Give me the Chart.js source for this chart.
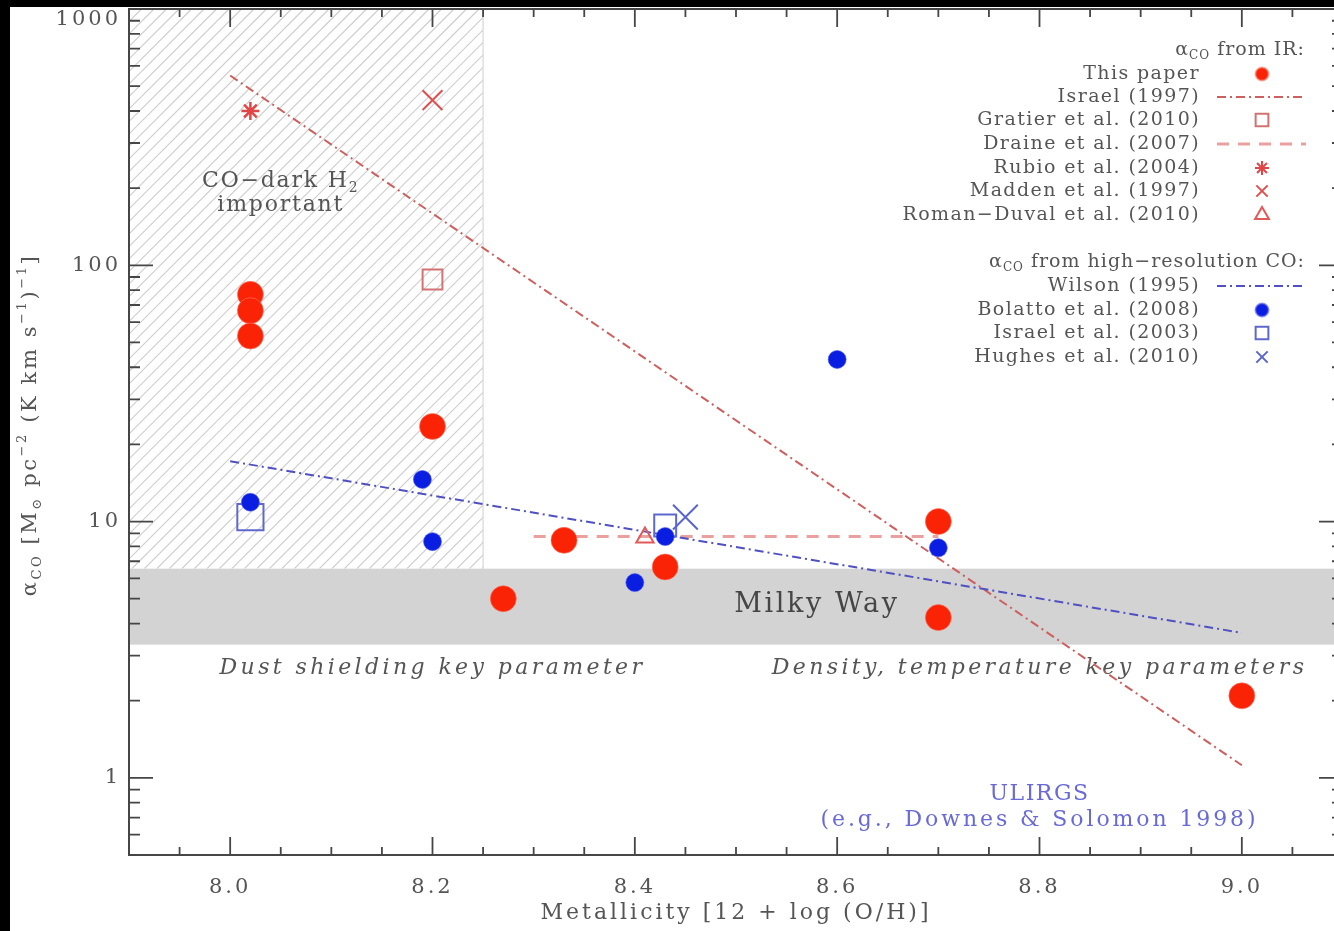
<!DOCTYPE html>
<html>
<head>
<meta charset="utf-8">
<script src="https://cdn.jsdelivr.net/npm/chart.js@4.4.1/dist/chart.umd.min.js"></script>
<style>
  html, body { margin: 0; padding: 0; background: #000; overflow: hidden; width: 1334px; height: 931px; }
  #myChart { position: absolute; left: 10px; top: 7px; background: #fff; }
</style>
</head>
<body>
<canvas id="myChart" width="1337" height="924"></canvas>
<script>
// ---- data ----
let thisPaperX = [8.02, 8.02, 8.02, 8.20, 8.27, 8.33, 8.43, 8.70, 8.70, 9.00]
let thisPaperY = [77, 66.5, 53, 23.5, 5.0, 8.45, 6.65, 10.0, 4.22, 2.09]

let bolattoX = [8.02, 8.19, 8.20, 8.40, 8.43, 8.60, 8.70]
let bolattoY = [11.9, 14.6, 8.35, 5.78, 8.74, 42.9, 7.9]

let israel03X = [8.02, 8.43]
let israel03Y = [10.4, 9.65]

let hughesX = [8.45]
let hughesY = [10.4]

let gratierX = [8.20]
let gratierY = [88]

let rubioX = [8.02]
let rubioY = [400]

let maddenX = [8.20]
let maddenY = [441]

let romanDuvalX = [8.41]
let romanDuvalY = [8.66]

let israel97X = [8.0, 9.0]
let israel97Y = [550, 1.12]

let wilsonX = [8.0, 9.0]
let wilsonY = [17.2, 3.68]

let draineX = [8.3, 8.7]
let draineY = [8.74, 8.74]

let X_TICKS = [8.0, 8.2, 8.4, 8.6, 8.8, 9.0]
let Y_TICKS = [1, 10, 100, 1000]

let MW_BAND = [3.31, 6.55]
let DARK_H2_X = [7.9, 8.25]

// ---- colours / fonts ----
const SERIF = '"DejaVu Serif", serif'
const TEXT = 'rgb(85,85,85)'
const RED = 'rgb(250,35,5)'
const BLUE = 'rgb(10,30,225)'
const RED_LINE = 'rgb(205,95,95)'
const BLUE_LINE = 'rgb(80,80,195)'

let pts = (xs, ys) => xs.map((x, i) => ({ x: x, y: ys[i] }))

// draw text made of pieces: [text, kind] kind 0 normal, 1 subscript, 2 superscript
function richText(c, parts, x, y, size, align, spacing) {
    c.save()
    c.letterSpacing = (spacing || 0) + 'px'
    let widths = parts.map(p => {
        c.font = (p[1] ? Math.round(size * 0.62) : size) + 'px ' + SERIF
        return c.measureText(p[0]).width
    })
    let total = widths.reduce((a, b) => a + b, 0)
    let cx = align === 'right' ? x - total : align === 'center' ? x - total / 2 : x
    c.textAlign = 'left'
    c.textBaseline = 'middle'
    parts.forEach((p, i) => {
        c.font = (p[1] ? Math.round(size * 0.62) : size) + 'px ' + SERIF
        let dy = p[1] === 1 ? size * 0.32 : p[1] === 2 ? -size * 0.38 : 0
        c.fillText(p[0], cx, y + dy)
        cx += widths[i]
    })
    c.restore()
}

function plainText(c, text, x, y, size, color, italic, spacing) {
    c.save()
    c.letterSpacing = (spacing || 0) + 'px'
    c.font = (italic ? 'italic ' : '') + size + 'px ' + SERIF
    c.fillStyle = color
    c.textAlign = 'center'
    c.textBaseline = 'middle'
    c.fillText(text, x, y)
    c.restore()
}

// band, hatching and the notes that sit under the data
const backdrop = {
    id: 'backdrop',
    beforeDatasetsDraw(chart) {
        let c = chart.ctx, xs = chart.scales.x, ys = chart.scales.y, a = chart.chartArea
        c.save()
        c.beginPath()
        c.rect(a.left, a.top, a.right - a.left, a.bottom - a.top)
        c.clip()

        // CO-dark H2 hatched box
        let hx0 = xs.getPixelForValue(DARK_H2_X[0]), hx1 = xs.getPixelForValue(DARK_H2_X[1])
        let hy0 = ys.getPixelForValue(1000), hy1 = ys.getPixelForValue(MW_BAND[1])
        c.save()
        c.beginPath()
        c.rect(hx0, hy0, hx1 - hx0, hy1 - hy0)
        c.clip()
        c.strokeStyle = 'rgb(205,205,205)'
        c.lineWidth = 1.2
        let H = hy1 - hy0
        for (let k = -H; k < hx1 - hx0 + H; k += 12.5) {
            c.beginPath()
            c.moveTo(hx0 + k, hy1)
            c.lineTo(hx0 + k + H, hy0)
            c.stroke()
        }
        c.restore()
        c.strokeStyle = 'rgb(215,215,215)'
        c.lineWidth = 1.2
        c.beginPath()
        c.moveTo(hx1, hy0)
        c.lineTo(hx1, hy1)
        c.stroke()

        // Milky Way band
        let by0 = ys.getPixelForValue(MW_BAND[1]), by1 = ys.getPixelForValue(MW_BAND[0])
        c.fillStyle = 'rgb(211,211,211)'
        c.fillRect(a.left, by0, a.right - a.left, by1 - by0)

        c.fillStyle = TEXT
        richText(c, [['CO\u2212dark H', 0], ['2', 1]], xs.getPixelForValue(8.05), ys.getPixelForValue(213), 22, 'center', 1.8)
        plainText(c, 'important', xs.getPixelForValue(8.05), ys.getPixelForValue(171), 22, TEXT, false, 1.8)
        plainText(c, 'Milky Way', xs.getPixelForValue(8.58), ys.getPixelForValue(4.74), 27, 'rgb(70,70,70)', false, 2.6)
        plainText(c, 'Dust shielding key parameter', xs.getPixelForValue(8.2), ys.getPixelForValue(2.67), 22, TEXT, true, 3.4)
        plainText(c, 'Density, temperature key parameters', xs.getPixelForValue(8.8), ys.getPixelForValue(2.67), 22, TEXT, true, 3.4)
        plainText(c, 'ULIRGS', xs.getPixelForValue(8.8), ys.getPixelForValue(0.86), 22, 'rgb(105,105,215)', false, 1.5)
        plainText(c, '(e.g., Downes & Solomon 1998)', xs.getPixelForValue(8.8), ys.getPixelForValue(0.686), 22, 'rgb(105,105,215)', false, 2.9)
        c.restore()
    }
}

// frame with inward ticks, y title and the legend
const frame = {
    id: 'frame',
    beforeDraw(chart) {
        chart.ctx.letterSpacing = '3px'
    },
    afterDraw(chart) {
        let c = chart.ctx, xs = chart.scales.x, ys = chart.scales.y, a = chart.chartArea
        c.save()
        c.letterSpacing = '0px'
        c.strokeStyle = 'rgb(70,70,70)'
        c.lineWidth = 2
        c.strokeRect(a.left, a.top, a.right - a.left, a.bottom - a.top)

        c.lineWidth = 1.8
        for (let i = 0; i <= 24; i++) {
            let v = 7.9 + i * 0.05
            let px = xs.getPixelForValue(v)
            let major = Math.abs(v * 5 - Math.round(v * 5)) < 1e-6
            let len = major ? 18 : 8
            c.beginPath()
            c.moveTo(px, a.bottom); c.lineTo(px, a.bottom - len)
            c.moveTo(px, a.top); c.lineTo(px, a.top + len)
            c.stroke()
        }
        for (let d = 0.1; d <= 1000; d *= 10) {
            for (let m = 1; m <= 9; m++) {
                let v = m * d
                if (v < 0.5 || v > 1000) continue
                let py = ys.getPixelForValue(v)
                let len = m === 1 ? 24 : 11
                c.beginPath()
                c.moveTo(a.left, py); c.lineTo(a.left + len, py)
                c.moveTo(a.right, py); c.lineTo(a.right - len, py)
                c.stroke()
            }
        }

        // y title
        c.fillStyle = TEXT
        c.save()
        c.translate(21, 418)
        c.rotate(-Math.PI / 2)
        richText(c, [['\u03b1', 0], ['CO', 1], [' [M', 0], ['\u2299', 1], [' pc', 0], ['\u22122', 2],
            [' (K km s', 0], ['\u22121', 2], [')', 0], ['\u22121', 2], [']', 0]], 0, 0, 21, 'center', 2.6)
        c.restore()

        // legend
        let tx = 1190, sx = 1252, l0 = 1207, l1 = 1296
        c.fillStyle = TEXT
        richText(c, [['\u03b1', 0], ['CO', 1], [' from IR:', 0]], 1295, 43, 19, 'right', 1)
        richText(c, [['\u03b1', 0], ['CO', 1], [' from high\u2212resolution CO:', 0]], 1295, 255, 19, 'right', 1)
        let rows = [
            ['This paper', 67, 0],
            ['Israel (1997)', 90, 8],
            ['Gratier et al. (2010)', 113, 3],
            ['Draine et al. (2007)', 137, 9],
            ['Rubio et al. (2004)', 161, 4],
            ['Madden et al. (1997)', 184, 5],
            ['Roman\u2212Duval et al. (2010)', 208, 6],
            ['Wilson (1995)', 279, 7],
            ['Bolatto et al. (2008)', 303, 1],
            ['Israel et al. (2003)', 326, 2],
            ['Hughes et al. (2010)', 350, 10]
        ]
        let legendSize = { 0: 6.5, 1: 6.5, 2: 9, 3: 9, 4: 7, 5: 8, 6: 8, 10: 8 }
        rows.forEach(r => {
            richText(c, [[r[0], 0]], tx, r[1], 19, 'right', 1.4)
            let ds = chart.data.datasets[r[2]]
            if (ds.showLine) {
                c.save()
                c.strokeStyle = ds.borderColor
                c.lineWidth = ds.borderWidth
                c.setLineDash(ds.borderDash)
                c.beginPath()
                c.moveTo(l0, r[1]); c.lineTo(l1, r[1])
                c.stroke()
                c.restore()
            } else {
                c.save()
                c.fillStyle = ds.backgroundColor
                c.strokeStyle = ds.borderColor
                c.lineWidth = 2
                Chart.helpers.drawPoint(c, { pointStyle: ds.pointStyle, rotation: 0, radius: legendSize[r[2]], borderWidth: 2 }, sx, r[1])
                c.restore()
            }
        })
        c.restore()
    }
}

let noEdgePadding = (s) => {
    s.paddingLeft = 0
    s.paddingRight = 0
    s.paddingTop = 0
    s.paddingBottom = 0
}

let ctx = document.getElementById('myChart')

let myChart = new Chart(ctx, {
    type: 'scatter',
    data: {
        datasets: [
            { label: 'This paper', data: pts(thisPaperX, thisPaperY), pointStyle: 'circle', pointRadius: 13,
              backgroundColor: RED, borderColor: 'rgba(255,120,100,0.6)', borderWidth: 1, order: 6 },
            { label: 'Bolatto et al. (2008)', data: pts(bolattoX, bolattoY), pointStyle: 'circle', pointRadius: 9,
              backgroundColor: BLUE, borderColor: 'rgba(80,90,240,0.6)', borderWidth: 1, order: 3 },
            { label: 'Israel et al. (2003)', data: pts(israel03X, israel03Y), pointStyle: 'rect', pointRadius: [18.5, 15.5],
              backgroundColor: 'rgba(0,0,0,0)', borderColor: 'rgb(95,105,205)', borderWidth: 2, order: 5 },
            { label: 'Gratier et al. (2010)', data: pts(gratierX, gratierY), pointStyle: 'rect', pointRadius: 14,
              backgroundColor: 'rgba(0,0,0,0)', borderColor: 'rgb(210,115,115)', borderWidth: 2, order: 5 },
            { label: 'Rubio et al. (2004)', data: pts(rubioX, rubioY), pointStyle: 'star', pointRadius: 9,
              backgroundColor: 'rgb(225,70,70)', borderColor: 'rgb(225,70,70)', borderWidth: 2.5, order: 5 },
            { label: 'Madden et al. (1997)', data: pts(maddenX, maddenY), pointStyle: 'crossRot', pointRadius: 14,
              backgroundColor: 'rgb(220,80,80)', borderColor: 'rgb(220,80,80)', borderWidth: 2, order: 5 },
            { label: 'Roman-Duval et al. (2010)', data: pts(romanDuvalX, romanDuvalY), pointStyle: 'triangle', pointRadius: 10,
              backgroundColor: 'rgba(0,0,0,0)', borderColor: 'rgb(225,90,90)', borderWidth: 2, order: 5 },
            { label: 'Wilson (1995)', data: pts(wilsonX, wilsonY), showLine: true, pointRadius: 0,
              borderColor: BLUE_LINE, borderWidth: 2, borderDash: [9, 4, 2, 4], order: 8 },
            { label: 'Israel (1997)', data: pts(israel97X, israel97Y), showLine: true, pointRadius: 0,
              borderColor: RED_LINE, borderWidth: 2, borderDash: [9, 4, 2, 4], order: 8 },
            { label: 'Draine et al. (2007)', data: pts(draineX, draineY), showLine: true, pointRadius: 0,
              borderColor: 'rgb(235,160,160)', borderWidth: 3, borderDash: [12, 9], order: 9 },
            { label: 'Hughes et al. (2010)', data: pts(hughesX, hughesY), pointStyle: 'crossRot', pointRadius: 17.5,
              backgroundColor: 'rgb(90,100,205)', borderColor: 'rgb(90,100,205)', borderWidth: 2, order: 2 }
        ]
    },
    options: {
        responsive: false,
        animation: false,
        layout: { autoPadding: false, padding: { top: 2, right: 4, left: 0, bottom: 0 } },
        plugins: { legend: { display: false }, tooltip: { enabled: false } },
        scales: {
            x: {
                type: 'linear',
                min: 7.9,
                max: 9.1,
                grid: { display: false },
                border: { display: false },
                afterBuildTicks: (s) => { s.ticks = X_TICKS.map(v => ({ value: v })) },
                afterFit: (s) => { s.height = 76; noEdgePadding(s) },
                ticks: {
                    padding: 12,
                    color: TEXT,
                    font: { family: SERIF, size: 21 },
                    maxRotation: 0,
                    callback: (v) => Number(v).toFixed(1)
                },
                title: {
                    display: true,
                    text: 'Metallicity [12 + log (O/H)]',
                    color: TEXT,
                    font: { family: SERIF, size: 22 },
                    padding: { top: 0, bottom: 5 }
                }
            },
            y: {
                type: 'logarithmic',
                min: 0.5,
                max: 1000,
                grid: { display: false },
                border: { display: false },
                afterBuildTicks: (s) => { s.ticks = Y_TICKS.map(v => ({ value: v })) },
                afterFit: (s) => { s.width = 119; noEdgePadding(s) },
                ticks: {
                    padding: 0,
                    color: TEXT,
                    font: { family: SERIF, size: 21, lineHeight: 1.0 },
                    // top label sits a bit lower, under the frame edge
                    callback: (v) => v === 1000 ? ['', '1000'] : String(v)
                }
            }
        }
    },
    plugins: [backdrop, frame]
});
</script>
</body>
</html>
